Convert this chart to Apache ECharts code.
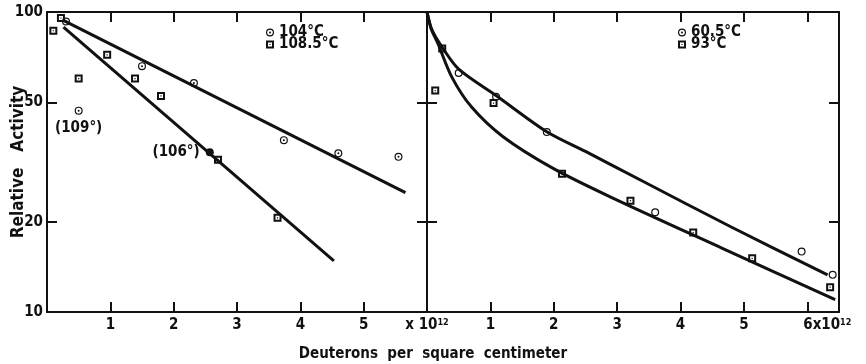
<!DOCTYPE html>
<html>
<head>
<meta charset="utf-8">
<script src="https://cdn.jsdelivr.net/npm/echarts@6/dist/echarts.min.js"></script>
<style>
  html, body { margin: 0; padding: 0; background: #fff; }
  #chart { width: 866px; height: 364px; }
</style>
</head>
<body>
<div id="chart"></div>
<script>
// left panel: 104 C (circles) and 108.5 C (squares)
const left104 = [[0.3, 93], [1.5, 66], [2.32, 58], [3.74, 37.4], [4.6, 33.8], [5.55, 32.9]];
const left108 = [[0.1, 86.6], [0.22, 95.5], [0.5, 60], [0.95, 72], [1.39, 60], [1.8, 52.5], [2.7, 32.2], [3.64, 20.6]];
const point109 = [[0.5, 46.9]];
const point106 = [[2.57, 34.1]];
const fit104 = [[0.25, 94], [5.66, 25]];
const fit108 = [[0.26, 89], [4.53, 14.8]];

// right panel: 60.5 C (circles) and 93 C (squares)
const right60 = [[0.5, 62.6], [1.09, 52.2], [1.89, 39.8], [3.6, 21.5], [5.91, 15.9], [6.4, 13.3]];
const right93 = [[0.13, 54.7], [0.24, 75.5], [1.05, 49.7], [2.13, 28.9], [3.21, 23.5], [4.2, 18.4], [5.13, 15.1], [6.36, 12.1]];
const curveUpper = [[0, 100], [0.08, 87], [0.25, 75.7], [0.5, 64.5], [1.1, 52.5], [1.89, 39.9], [2.5, 34.3], [3.36, 27.6], [4.8, 19.2], [6.32, 13.3]];
const curveLower = [[0, 100], [0.065, 88], [0.17, 78.7], [0.39, 60.8], [0.7, 48.3], [1.2, 38.4], [1.99, 30.1], [2.89, 24.2], [4.66, 16.3], [6.44, 11.0]];

const yTicks = [20, 50];
const yLabels = [10, 20, 50, 100];
const xTicksLeft = [1, 2, 3, 4, 5];
const xLabelsLeft = [1, 2, 3, 4, 5, 6];
const xTicksRight = [1, 2, 3, 4, 5, 6];

const FONT = "'DejaVu Sans Condensed', 'DejaVu Sans', sans-serif";
const INK = '#111';

// ring with a dot, plain ring, square with a dot
const ringDot = 'path://M10,0 A10,10 0 1,1 10,20 A10,10 0 1,1 10,0 Z M10,3 A7,7 0 1,0 10,17 A7,7 0 1,0 10,3 Z M10,7.5 A2.5,2.5 0 1,1 10,12.5 A2.5,2.5 0 1,1 10,7.5 Z';
const ring = 'path://M10,0 A10,10 0 1,1 10,20 A10,10 0 1,1 10,0 Z M10,3 A7,7 0 1,0 10,17 A7,7 0 1,0 10,3 Z';
const boxDot = 'path://M0,0 L20,0 L20,20 L0,20 Z M5,5 L5,15 L15,15 L15,5 Z M8.5,8.5 L11.5,8.5 L11.5,11.5 L8.5,11.5 Z';

const chart = echarts.init(document.getElementById('chart'));

const tick = (values) => ({
    show: true,
    inside: true,
    length: 10,
    customValues: values,
    lineStyle: { color: INK, width: 2 }
});
const axisLine = { show: true, onZero: false, lineStyle: { color: INK, width: 2 } };
const labelStyle = { color: INK, fontFamily: FONT, fontWeight: 'bold', fontSize: 15 };
const mark = { color: INK, opacity: 1 };
const legendText = { color: INK, fontFamily: FONT, fontWeight: 'bold', fontSize: 15 };

const option = {
    animation: false,
    backgroundColor: '#fff',
    title: {
        text: 'Deuterons  per  square  centimeter',
        left: 'center',
        top: 342,
        textStyle: { color: INK, fontFamily: FONT, fontWeight: 'bold', fontSize: 15 }
    },
    legend: [
        {
            left: 266, top: 25, padding: 0, orient: 'vertical', itemWidth: 8, itemHeight: 8, itemGap: -3,
            selectedMode: false, textStyle: legendText,
            data: [{ name: '104°C', icon: ringDot }, { name: '108.5°C', icon: boxDot }]
        },
        {
            left: 678, top: 25, padding: 0, orient: 'vertical', itemWidth: 8, itemHeight: 8, itemGap: -3,
            selectedMode: false, textStyle: legendText,
            data: [{ name: '60.5°C', icon: ringDot }, { name: '93°C', icon: boxDot }]
        }
    ],
    grid: [
        { left: 47, top: 12, width: 380, height: 300 },
        { left: 427, top: 12, width: 412, height: 300 }
    ],
    xAxis: [
        {
            gridIndex: 0, type: 'value', position: 'bottom', min: 0, max: 6,
            axisLine: axisLine, axisTick: tick(xTicksLeft), splitLine: { show: false },
            axisLabel: Object.assign({}, labelStyle, {
                margin: 6,
                customValues: xLabelsLeft,
                formatter: v => v === 6 ? '{x|x 10}{s|12}' : String(v),
                rich: {
                    x: { fontFamily: FONT, fontWeight: 'bold', fontSize: 15, color: INK },
                    s: { fontFamily: FONT, fontWeight: 'bold', fontSize: 9, color: INK, verticalAlign: 'top' }
                }
            })
        },
        {
            gridIndex: 0, type: 'value', position: 'top', min: 0, max: 6,
            axisLine: axisLine, axisTick: tick(xTicksLeft), axisLabel: { show: false }, splitLine: { show: false }
        },
        {
            gridIndex: 1, type: 'value', position: 'bottom', min: 0, max: 6.5,
            axisLine: axisLine, axisTick: tick(xTicksRight), splitLine: { show: false },
            axisLabel: Object.assign({}, labelStyle, {
                margin: 6,
                customValues: xTicksRight,
                formatter: v => v === 6 ? '{p|}6{x|x10}{s|12}' : String(v),
                rich: {
                    p: { width: 40 },
                    x: { fontFamily: FONT, fontWeight: 'bold', fontSize: 15, color: INK },
                    s: { fontFamily: FONT, fontWeight: 'bold', fontSize: 9, color: INK, verticalAlign: 'top' }
                }
            })
        },
        {
            gridIndex: 1, type: 'value', position: 'top', min: 0, max: 6.5,
            axisLine: axisLine, axisTick: tick(xTicksRight), axisLabel: { show: false }, splitLine: { show: false }
        }
    ],
    yAxis: [
        {
            gridIndex: 0, type: 'log', logBase: 10, min: 10, max: 100, position: 'left',
            axisLine: axisLine, axisTick: tick(yTicks), splitLine: { show: false },
            axisLabel: Object.assign({}, labelStyle, { margin: 4, customValues: yLabels }),
            name: 'Relative   Activity',
            nameLocation: 'middle',
            nameGap: 20,
            nameMoveOverlap: false,
            nameTextStyle: { color: INK, fontFamily: FONT, fontWeight: 'bold', fontSize: 17 }
        },
        {
            gridIndex: 0, type: 'log', logBase: 10, min: 10, max: 100, position: 'right',
            axisLine: axisLine, axisTick: tick(yTicks), axisLabel: { show: false }, splitLine: { show: false }
        },
        {
            gridIndex: 1, type: 'log', logBase: 10, min: 10, max: 100, position: 'left',
            axisLine: axisLine, axisTick: tick(yTicks), axisLabel: { show: false }, splitLine: { show: false }
        },
        {
            gridIndex: 1, type: 'log', logBase: 10, min: 10, max: 100, position: 'right',
            axisLine: axisLine, axisTick: tick(yTicks), axisLabel: { show: false }, splitLine: { show: false }
        }
    ],
    series: [
        // left panel
        {
            name: 'fit104', type: 'line', xAxisIndex: 0, yAxisIndex: 0, data: fit104,
            showSymbol: false, silent: true, lineStyle: { color: INK, width: 3 }
        },
        {
            name: 'fit108', type: 'line', xAxisIndex: 0, yAxisIndex: 0, data: fit108,
            showSymbol: false, silent: true, lineStyle: { color: INK, width: 3 }
        },
        {
            name: '104°C', type: 'scatter', xAxisIndex: 0, yAxisIndex: 0, data: left104,
            symbol: ringDot, symbolSize: 8, itemStyle: mark
        },
        {
            name: '108.5°C', type: 'scatter', xAxisIndex: 0, yAxisIndex: 0, data: left108,
            symbol: boxDot, symbolSize: 8, itemStyle: mark
        },
        {
            name: 'p109', type: 'scatter', xAxisIndex: 0, yAxisIndex: 0, data: point109,
            symbol: ringDot, symbolSize: 8, itemStyle: mark,
            label: { show: true, position: 'bottom', distance: 6, formatter: '(109°)', color: INK, fontFamily: FONT, fontWeight: 'bold', fontSize: 15 }
        },
        {
            name: 'p106', type: 'scatter', xAxisIndex: 0, yAxisIndex: 0, data: point106,
            symbol: 'circle', symbolSize: 8, itemStyle: mark,
            label: { show: true, position: 'left', distance: 6, formatter: '(106°)', color: INK, fontFamily: FONT, fontWeight: 'bold', fontSize: 15 }
        },
        // right panel
        {
            name: 'upper', type: 'line', xAxisIndex: 2, yAxisIndex: 2, data: curveUpper,
            smooth: 0.3, showSymbol: false, silent: true, lineStyle: { color: INK, width: 3 }
        },
        {
            name: 'lower', type: 'line', xAxisIndex: 2, yAxisIndex: 2, data: curveLower,
            smooth: 0.3, showSymbol: false, silent: true, lineStyle: { color: INK, width: 3 }
        },
        {
            name: '60.5°C', type: 'scatter', xAxisIndex: 2, yAxisIndex: 2, data: right60,
            symbol: ring, symbolSize: 8, itemStyle: mark
        },
        {
            name: '93°C', type: 'scatter', xAxisIndex: 2, yAxisIndex: 2, data: right93,
            symbol: boxDot, symbolSize: 8, itemStyle: mark
        }
    ]
};

chart.setOption(option);
</script>
</body>
</html>
